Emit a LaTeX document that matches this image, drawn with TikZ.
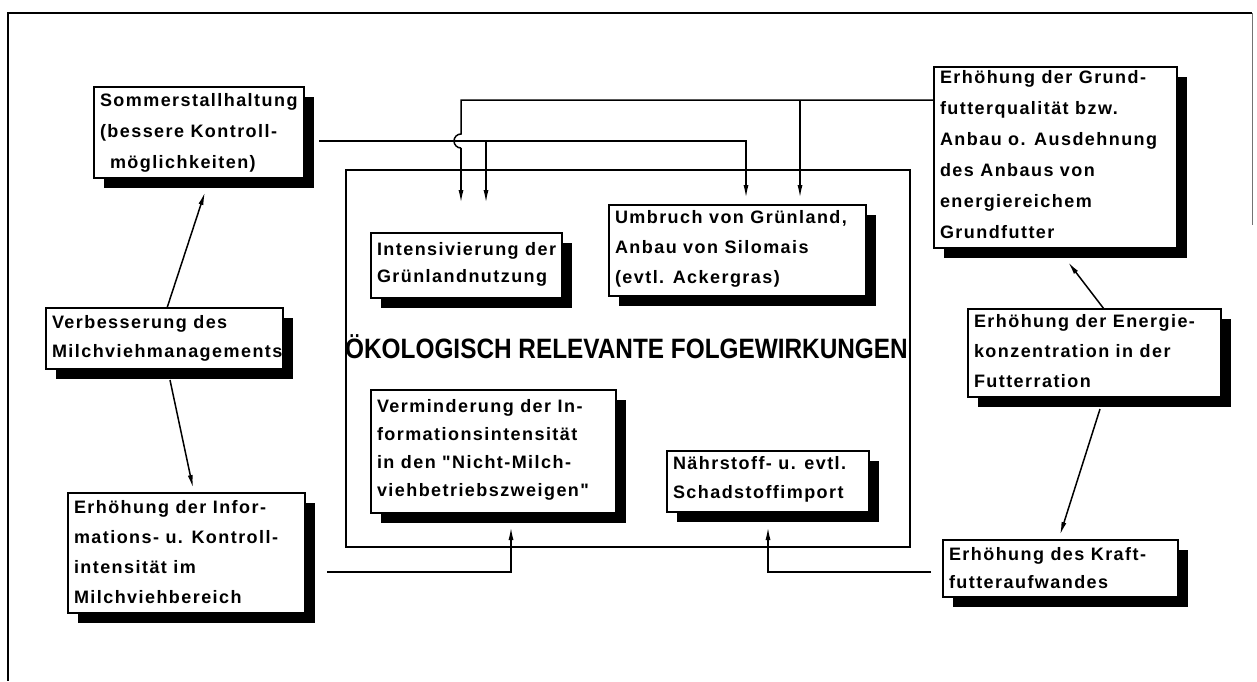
\documentclass[tikz,border=0pt]{standalone}
\usepackage{fontspec}
\newfontfamily\boxfont{Liberation Sans}[LetterSpace=8,UprightFont=* Bold]
\newfontfamily\titlefont{Liberation Sans}[UprightFont=* Bold]
\usetikzlibrary{shadows,calc,arrows.meta}
\tikzset{
  ebox/.style={draw, fill=white, line width=1.3pt, inner sep=0pt, outer sep=0pt, anchor=north west,
    drop shadow={shadow xshift=10pt, shadow yshift=-10pt, opacity=1, fill=black}},
  txt/.style={inner sep=0pt, outer sep=0pt, anchor=north west, align=left},
  conn/.style={line width=1.5pt, -{Latex[length=13pt,width=5pt]}},
  wire/.style={line width=1.5pt},
  frame/.style={line width=2pt},
}
\newcommand{\ebox}[8]{%
  \node[ebox, minimum width={#4pt-#2pt}, minimum height={#5pt-#3pt}] (#1) at (#2,#3) {};
  \node[txt, font=\boxfont\fontsize{18}{#7}\selectfont] (#1-t) at ({#2+6},{#3+#6-13}) {#8};
}
\begin{document}
\begin{tikzpicture}[x=1pt,y=-1pt]
\useasboundingbox (0,0) rectangle (1257,681);
% outer frame
\draw[frame] (1252,13) -- (8,13) -- (8,681);
\draw[line width=0.8pt, black!55] (1252,13) -- (1252,225);
% central frame
\node[draw, line width=2.4pt, inner sep=0pt, outer sep=0pt, anchor=north west,
      minimum width=564pt, minimum height=377pt] (eco) at (346,170) {};
\node[inner sep=0pt, anchor=base west, font=\titlefont\fontsize{28}{28}\selectfont] (title) at (345,358)
  {\scalebox{0.87}[1]{ÖKOLOGISCH RELEVANTE FOLGEWIRKUNGEN}};
% boxes
\ebox{sommer}{94}{87}{304}{178}{19}{31}{Sommerstallhaltung\\(bessere Kontroll-\\\hspace*{10pt}möglichkeiten)}
\ebox{verb}{46}{308}{283}{369}{20}{29}{Verbesserung des\\Milchviehmanagements}
\ebox{info}{68}{493}{305}{613}{20}{30}{Erhöhung der Infor-\\mations- u. Kontroll-\\intensität im\\Milchviehbereich}
\ebox{intens}{371}{233}{562}{298}{22}{27}{Intensivierung der\\Grünlandnutzung}
\ebox{umbruch}{609}{205}{866}{296}{18}{30}{Umbruch von Grünland,\\Anbau von Silomais\\(evtl. Ackergras)}
\ebox{vermind}{371}{390}{616}{513}{22}{28}{Verminderung der In-\\formationsintensität\\in den "Nicht-Milch-\\viehbetriebszweigen"}
\ebox{naehr}{667}{451}{869}{512}{18}{29}{Nährstoff- u. evtl.\\Schadstoffimport}
\ebox{grund}{934}{67}{1177}{248}{16}{31}{Erhöhung der Grund-\\futterqualität bzw.\\Anbau o. Ausdehnung\\des Anbaus von\\energiereichem\\Grundfutter}
\ebox{energie}{968}{309}{1221}{397}{18}{30}{Erhöhung der Energie-\\konzentration in der\\Futterration}
\ebox{kraft}{943}{540}{1178}{597}{20}{28}{Erhöhung des Kraft-\\futteraufwandes}
% connectors
\draw[conn] ($(verb.north west)+(121,0)$) -- ($(sommer.south west)+(111,14)$);
\draw[conn] ($(verb.south west)+(124,11)$) -- ($(info.north west)+(125,-5)$);
\draw[conn] ($(sommer.north east)+(15,54)$) -| ($(umbruch.north west)+(137,-7)$);
\coordinate (br1) at ($(intens.north west)+(115,-92)$);
\draw[conn] (br1) -- ($(intens.north west)+(115,-30)$);
\coordinate (gstart) at ($(grund.north west)+(0,33)$);
\coordinate (hopA) at ($(intens.north west)+(90,-99)$);
\coordinate (hopB) at ($(intens.north west)+(90,-85)$);
\draw[wire] (gstart) -| (hopA) arc[start angle=90, end angle=270, radius=7pt];
\draw[conn] (hopB) -- ($(intens.north west)+(90,-30)$);
\coordinate (br2) at ($(umbruch.north west)+(191,-105)$);
\draw[conn] (br2) -- ($(umbruch.north west)+(191,-7)$);
\draw[conn] ($(info.north east)+(22,79)$) -| ($(vermind.south west)+(140,14)$);
\draw[conn] ($(kraft.north west)+(-12,32)$) -| ($(naehr.south west)+(101,15)$);
\draw[conn] ($(energie.south west)+(132,12)$) -- ($(kraft.north west)+(117,-5)$);
\draw[conn] ($(energie.north west)+(136,0)$) -- ($(grund.south west)+(134,14)$);
\end{tikzpicture}
\end{document}
